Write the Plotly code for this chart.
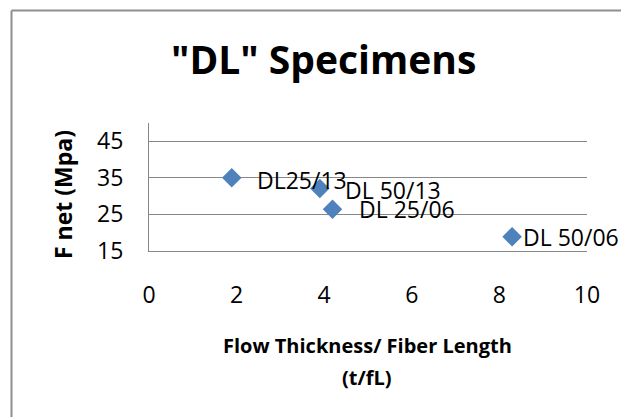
import plotly.graph_objects as go

# Specimen data: flow thickness / fiber length ratio vs. net strength
specimens = ["DL25/13", "DL 50/13", "DL 25/06", "DL 50/06"]
t_over_fl = [1.89, 3.90, 4.19, 8.29]
f_net_mpa = [35.0, 32.1, 26.4, 18.9]

x_ticks = [0, 2, 4, 6, 8, 10]
y_ticks = [15, 25, 35, 45]

# label offsets (px) to the right of each marker
label_dx = [23, 23, 24, 9]
label_dy = [-2, -2, 0, 0]

FONT = "Open Sans"
GRID = "#878787"

fig = go.Figure()
fig.add_trace(go.Scatter(
    x=t_over_fl, y=f_net_mpa, mode="markers",
    marker=dict(symbol="diamond", size=15, color="#4F81BD"),
    hoverinfo="x+y", showlegend=False,
))

for name, xv, yv, dx, dy in zip(specimens, t_over_fl, f_net_mpa, label_dx, label_dy):
    fig.add_annotation(x=xv, y=yv, xref="x", yref="y", text=name,
                       showarrow=False, xanchor="left", yanchor="middle",
                       xshift=dx, yshift=dy,
                       font=dict(family=FONT, size=23, color="#000000"))

W, H = 621, 417
L, R, T, B = 149, 34, 123, 166
pw, ph = W - L - R, H - T - B

def px(x):
    return (x - L) / pw

def py(y):
    return (H - B - y) / ph

border = dict(color="#8E8E8E", width=2)
fig.update_layout(
    width=W, height=H,
    margin=dict(l=L, r=R, t=T, b=B, pad=0),
    paper_bgcolor="white", plot_bgcolor="white",
    font=dict(family=FONT, color="#000000"),
    xaxis=dict(range=[0, 10], tickvals=x_ticks, ticktext=[str(v) for v in x_ticks],
               showgrid=False, zeroline=False, showline=True, linecolor=GRID, linewidth=1,
               ticks="outside", ticklen=23, tickcolor="rgba(0,0,0,0)",
               tickfont=dict(family=FONT, size=23, color="#000000")),
    yaxis=dict(range=[15, 50], tickvals=y_ticks, ticktext=[str(v) for v in y_ticks],
               showgrid=True, gridcolor=GRID, gridwidth=1, zeroline=False,
               showline=True, linecolor=GRID, linewidth=1,
               ticks="outside", ticklen=20, tickcolor="rgba(0,0,0,0)",
               tickfont=dict(family=FONT, size=23, color="#000000")),
    shapes=[
        # chart frame: only its top and left edges fall inside the page
        dict(type="line", xref="paper", yref="paper",
             x0=px(11.5), x1=px(621), y0=py(10.5), y1=py(10.5), line=border),
        dict(type="line", xref="paper", yref="paper",
             x0=px(11.5), x1=px(11.5), y0=py(10.5), y1=py(417), line=border),
    ],
)

fig.add_annotation(text='"DL" Specimens', xref="paper", yref="paper",
                   x=px(323), y=py(58), showarrow=False, xanchor="center", yanchor="middle",
                   font=dict(family=FONT, size=39, color="#000000", weight="bold"))
fig.add_annotation(text="F net (Mpa)", xref="paper", yref="paper",
                   x=px(63), y=py(195), showarrow=False, textangle=-90,
                   xanchor="center", yanchor="middle",
                   font=dict(family=FONT, size=23, color="#000000", weight="bold"))
for line, ypix in (("Flow Thickness/ Fiber Length", 345), ("(t/fL)", 377)):
    fig.add_annotation(text=line, xref="paper", yref="paper",
                       x=px(367), y=py(ypix), showarrow=False,
                       xanchor="center", yanchor="middle",
                       font=dict(family=FONT, size=20, color="#000000", weight="bold"))

fig.write_html("out.html", config={"displayModeBar": False})
